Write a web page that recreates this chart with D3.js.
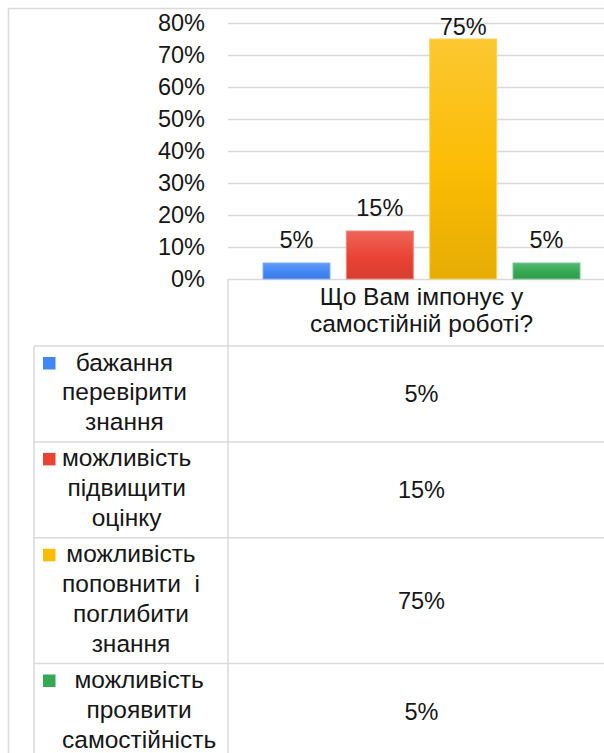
<!DOCTYPE html>
<meta charset="utf-8">
<style>

body {
  margin: 0;
  background: #fff;
}

.chart text {
  font-family: "Liberation Sans", Arial, sans-serif;
  font-size: 23.5px;
  fill: #161616;
}

.chart text.cyr {
  font-size: 24.5px;
}

.grid line {
  stroke: #d9d9d9;
  stroke-width: 1.5px;
}

.rule {
  stroke: #dadada;
  stroke-width: 1.5px;
  fill: none;
}

</style>
<svg class="chart"></svg>
<script src="https://cdn.jsdelivr.net/npm/d3@7"></script>
<script>

// data
var seriesLines = [
  ["бажання", "перевірити", "знання"],
  ["можливість", "підвищити", "оцінку"],
  ["можливість", "поповнити  і", "поглибити", "знання"],
  ["можливість", "проявити", "самостійність"]
];
var values = [0.05, 0.15, 0.75, 0.05];
var categoryLines = ["Що Вам імпонує у", "самостійній роботі?"];
var yTicks = [0, 0.1, 0.2, 0.3, 0.4, 0.5, 0.6, 0.7, 0.8];
var colors = ["#4285f4", "#ea4335", "#fbbc04", "#34a853"];

var width = 604,
    height = 753;

var plotLeft = 228,
    plotRight = 615,
    colLeft = 34,
    headerBottom = 346,
    lineHeight = 29.8;

var pct = d3.format(".0%");

var chart = d3.select(".chart")
    .attr("width", width)
    .attr("height", height);

var x = d3.scaleBand()
    .domain(d3.range(values.length))
    .range([plotLeft, plotRight])
    .paddingInner(0.196)
    .paddingOuter(0.42);

var y = d3.scaleLinear()
    .domain([0, 0.8])
    .range([279, 23]);

// gradients for the bars
var defs = chart.append("defs");
colors.forEach(function(c, i) {
  var g = defs.append("linearGradient")
      .attr("id", "grad" + i)
      .attr("x1", 0).attr("y1", 0)
      .attr("x2", 0).attr("y2", 1);
  g.append("stop").attr("offset", "0%").attr("stop-color", d3.interpolateRgb(c, "#fff")(0.18));
  g.append("stop").attr("offset", "55%").attr("stop-color", c);
  g.append("stop").attr("offset", "100%").attr("stop-color", d3.color(c).darker(0.25));
});

// outer frame
chart.append("path")
    .attr("class", "rule")
    .attr("d", "M8.5," + height + "V8.5H" + width);

// gridlines
chart.append("g")
    .attr("class", "grid")
    .attr("transform", "translate(" + plotLeft + ",0)")
    .call(d3.axisLeft(y).tickValues(yTicks).tickSize(-(plotRight - plotLeft)).tickFormat(""))
    .call(function(g) { g.select(".domain").remove(); });

// y labels
chart.append("g")
    .attr("transform", "translate(205,0)")
    .call(d3.axisLeft(y).tickValues(yTicks).tickSize(0).tickPadding(0).tickFormat(pct))
    .call(function(g) {
      g.select(".domain").remove();
      g.selectAll("text")
          .attr("dy", "0.33em")
          .attr("fill", null)
          .attr("font-size", null)
          .attr("font-family", null);
    });

// bars
chart.selectAll(".bar")
    .data(values)
  .enter().append("rect")
    .attr("class", "bar")
    .attr("x", function(d, i) { return x(i); })
    .attr("y", function(d) { return y(d); })
    .attr("width", x.bandwidth())
    .attr("height", function(d) { return y(0) - y(d); })
    .attr("fill", function(d, i) { return "url(#grad" + i + ")"; })
    .attr("stroke", function(d, i) { return d3.interpolateRgb(colors[i], "#fff")(0.35); })
    .attr("stroke-width", 1);

chart.selectAll(".bar-label")
    .data(values)
  .enter().append("text")
    .attr("class", "bar-label")
    .attr("x", function(d, i) { return x(i) + x.bandwidth() / 2; })
    .attr("y", function(d) { return Math.max(y(d) - 15.5, y(0.8) + 12); })
    .attr("text-anchor", "middle")
    .text(function(d) { return pct(d); });

// data table
var rows = [], rowTop = headerBottom;
seriesLines.forEach(function(lines, i) {
  var h = lines.length * lineHeight + 6.5;
  rows.push({ i: i, lines: lines, top: rowTop, h: h });
  rowTop += h;
});

var midX = (plotLeft + plotRight) / 2;

chart.append("g").selectAll("text")
    .data(categoryLines)
  .enter().append("text")
    .attr("class", "cyr")
    .attr("x", midX)
    .attr("y", function(d, i) { return 305 + i * 27; })
    .attr("text-anchor", "middle")
    .text(function(d) { return d; });

chart.append("path")
    .attr("class", "rule")
    .attr("d", "M" + plotLeft + ",279V" + height + "M" + colLeft + "," + headerBottom + "V" + height);

chart.selectAll(".row-line")
    .data(rows)
  .enter().append("path")
    .attr("class", "rule")
    .attr("d", function(r) { return "M" + colLeft + "," + r.top + "H" + width; });

var row = chart.selectAll(".row")
    .data(rows)
  .enter().append("g")
    .attr("class", "row");

row.append("rect")
    .attr("x", 43)
    .attr("y", function(r) { return r.top + 11; })
    .attr("width", 12.5)
    .attr("height", 12.5)
    .attr("fill", function(r) { return colors[r.i]; });

row.each(function(r) {
  var g = d3.select(this);
  var t = g.selectAll(".leg")
      .data(r.lines)
    .enter().append("text")
      .attr("class", "leg cyr")
      .style("white-space", "pre")
      .attr("text-anchor", "middle")
      .attr("y", function(d, k) { return r.top + 24.5 + k * lineHeight; })
      .text(function(d) { return d; });
  var w = d3.max(t.nodes(), function(n) { return n.getComputedTextLength(); });
  t.attr("x", 62 + w / 2);
});

row.append("text")
    .attr("x", midX)
    .attr("y", function(r) { return r.top + r.h / 2 + 8.4; })
    .attr("text-anchor", "middle")
    .text(function(r) { return pct(values[r.i]); });

</script>
